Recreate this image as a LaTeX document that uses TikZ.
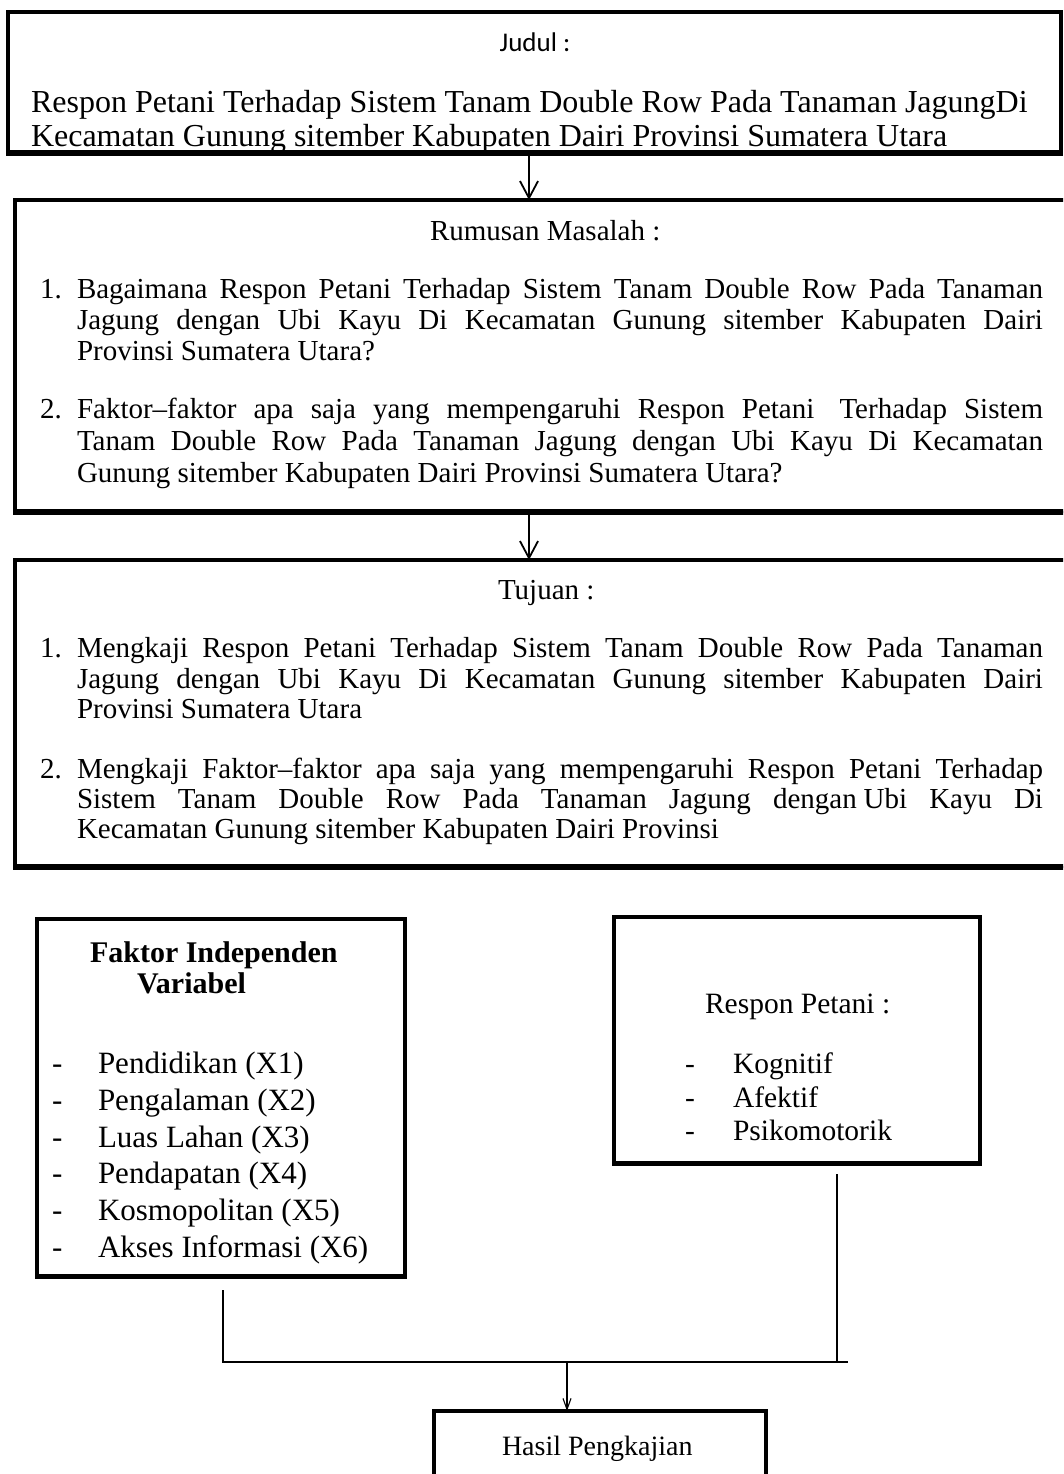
\documentclass[tikz,border=0pt]{standalone}
\usepackage{fontspec}
\setmainfont{Liberation Serif}
\newfontfamily\calibri{Carlito}
\usetikzlibrary{arrows.meta}
\newcommand\fsz[1]{\fontsize{#1}{#1}\selectfont}
\tikzset{
  bx/.style={draw=black, line width=4.5pt, anchor=north west, inner sep=0pt, outer sep=0pt},
  txt/.style={anchor=base west, inner sep=0pt, outer sep=0pt},
  ctxt/.style={anchor=base, inner sep=0pt, outer sep=0pt},
  bigarrow/.style={line width=1.8pt, -{Straight Barb[length=17pt,width=18pt,line width=1.8pt]}},
  smallarrow/.style={line width=1.1pt, -{Straight Barb[length=11pt,width=8pt,line width=1.1pt]}},
  conn/.style={line width=1.4pt},
}
\begin{document}
\begin{tikzpicture}[x=1pt,y=-1pt]
\useasboundingbox (0,0) rectangle (1063,1474);
\clip (0,0) rectangle (1063,1474);
% boxes
\node[bx, minimum width=1053pt, minimum height=140pt] (b1) at (8,12) {};
\node[bx, minimum width=1060pt, minimum height=311pt] (b2) at (15,200) {};
\node[bx, minimum width=1060pt, minimum height=306pt] (b3) at (15,560) {};
\node[bx, minimum width=368pt, minimum height=357pt] (b4) at (37,919) {};
\node[bx, minimum width=366pt, minimum height=246pt] (b5) at (614,917) {};
\node[bx, minimum width=332pt, minimum height=120pt] (b6) at (434,1411) {};
% bottom shadow thickening
\fill (b1.south west) ++(-2.25,0) rectangle ([shift={(2.25,4)}]b1.south east);
\fill (b2.south west) ++(-2.25,0) rectangle ([shift={(2.25,4)}]b2.south east);
\fill (b3.south west) ++(-2.25,0) rectangle ([shift={(2.25,4)}]b3.south east);
\fill (b4.south west) ++(-2.25,0) rectangle ([shift={(2.25,3)}]b4.south east);
\fill (b5.south west) ++(-2.25,0) rectangle ([shift={(2.25,3)}]b5.south east);

% box 1 text
\node[ctxt] (judul) at (535,52) {\calibri\fsz{27}Judul :};
\node[txt] (t1) at (31,113) {\fsz{32}Respon Petani Terhadap Sistem Tanam Double Row Pada Tanaman JagungDi};
\node[txt] (t2) at (31,147) {\fsz{32}Kecamatan Gunung sitember Kabupaten Dairi Provinsi Sumatera Utara};

% box 2 text
\node[txt] (rm) at (430,240) {\fsz{29}Rumusan Masalah :};
\node[txt] (rn1) at (40,298) {\fsz{29}1.};
\node[txt] (r11) at (77,298) {\fsz{29}\makebox[966pt][s]{Bagaimana Respon Petani Terhadap Sistem Tanam Double Row Pada Tanaman}};
\node[txt] (r12) at (77,329) {\fsz{29}\makebox[966pt][s]{Jagung dengan Ubi Kayu Di Kecamatan Gunung sitember Kabupaten Dairi}};
\node[txt] (r13) at (77,360) {\fsz{29}Provinsi Sumatera Utara?};
\node[txt] (rn2) at (40,418) {\fsz{29}2.};
\node[txt] (r21) at (77,418) {\fsz{29}\makebox[966pt][s]{Faktor--faktor apa saja yang mempengaruhi Respon Petani\kern8pt{} Terhadap Sistem}};
\node[txt] (r22) at (77,450) {\fsz{29}\makebox[966pt][s]{Tanam Double Row Pada Tanaman Jagung dengan Ubi Kayu Di Kecamatan}};
\node[txt] (r23) at (77,482) {\fsz{29}Gunung sitember Kabupaten Dairi Provinsi Sumatera Utara?};

% box 3 text
\node[txt] (tj) at (498,599) {\fsz{29}Tujuan :};
\node[txt] (tn1) at (40,657) {\fsz{29}1.};
\node[txt] (u11) at (77,657) {\fsz{29}\makebox[966pt][s]{Mengkaji Respon Petani Terhadap Sistem Tanam Double Row Pada Tanaman}};
\node[txt] (u12) at (77,688) {\fsz{29}\makebox[966pt][s]{Jagung dengan Ubi Kayu Di Kecamatan Gunung sitember Kabupaten Dairi}};
\node[txt] (u13) at (77,718) {\fsz{29}Provinsi Sumatera Utara};
\node[txt] (tn2) at (40,778) {\fsz{29}2.};
\node[txt] (u21) at (77,778) {\fsz{29}\makebox[966pt][s]{Mengkaji Faktor--faktor apa saja yang mempengaruhi Respon Petani Terhadap}};
\node[txt] (u22) at (77,808) {\fsz{29}\makebox[966pt][s]{Sistem Tanam Double Row Pada Tanaman Jagung dengan\kern7pt{}Ubi Kayu Di}};
\node[txt] (u23) at (77,838) {\fsz{29}Kecamatan Gunung sitember Kabupaten Dairi Provinsi};

% left box
\node[txt] (fh1) at (90,962) {\fsz{30}\bfseries Faktor Independen};
\node[txt] (fh2) at (137,993) {\fsz{30}\bfseries Variabel};
\foreach \y/\t [count=\i] in {1073/Pendidikan (X1), 1110/Pengalaman (X2), 1147/Luas Lahan (X3), 1183/Pendapatan (X4), 1220/Kosmopolitan (X5), 1257/Akses Informasi (X6)} {
  \node[txt] (fd\i) at (52,\y) {\fsz{31}-};
  \node[txt] (f\i) at (98,\y) {\fsz{31}\t};
}

% right box
\node[txt] (rp) at (705,1013) {\fsz{29.5}Respon Petani :};
\foreach \y/\t [count=\i] in {1073/Kognitif, 1107/Afektif, 1140/Psikomotorik} {
  \node[txt] (rd\i) at (685,\y) {\fsz{29.5}-};
  \node[txt] (rr\i) at (733,\y) {\fsz{29.5}\t};
}

% bottom box
\node[txt] (hp) at (502,1455) {\fsz{28}Hasil Pengkajian};

% connectors
\coordinate (ax) at (529,0);
\draw[bigarrow] (b1.south -| ax) -- (b2.north -| ax);
\draw[bigarrow] (b2.south -| ax) -- (b3.north -| ax);
\coordinate (l1) at (223,1290);
\coordinate (j1) at (223,1362);
\coordinate (r1) at (837,1174);
\coordinate (j2) at (837,1362);
\coordinate (hend) at (848,1362);
\coordinate (am) at (567,1362);
\draw[conn] (l1) -- (j1) -- (hend);
\draw[conn] (r1) -- (j2);
\draw[smallarrow] (am) -- (b6.north -| am);
\end{tikzpicture}
\end{document}
